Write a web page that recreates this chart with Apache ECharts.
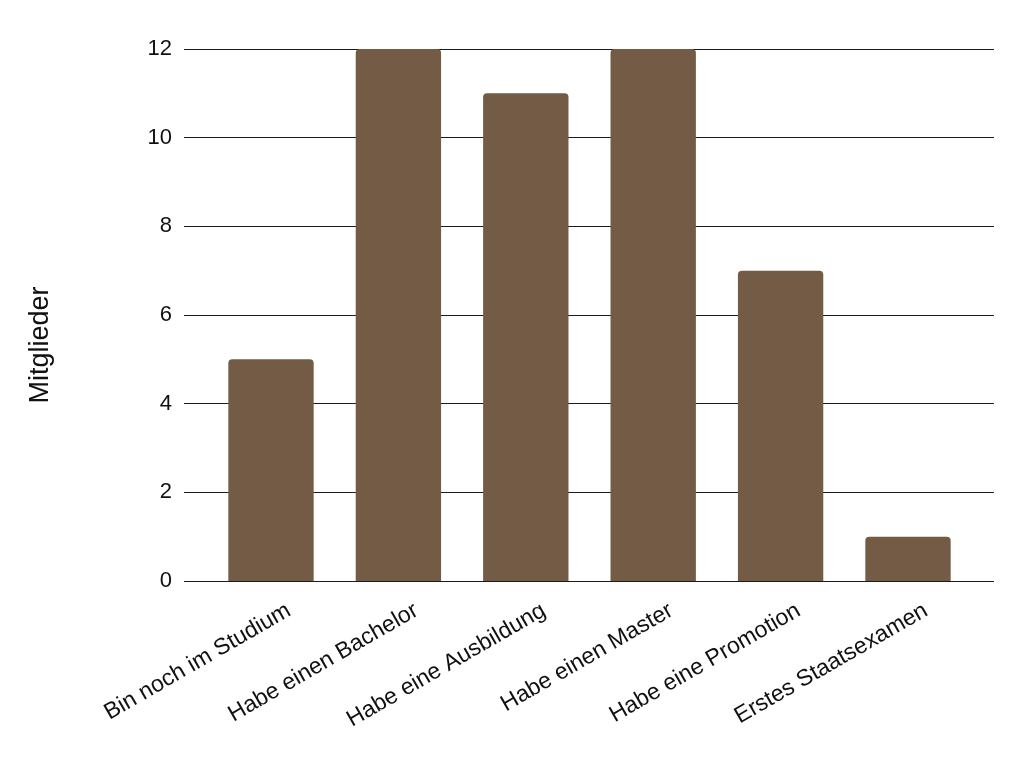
<!DOCTYPE html>
<html>
<head>
<meta charset="utf-8">
<script src="https://cdn.jsdelivr.net/npm/echarts@6/dist/echarts.min.js"></script>
<style>
html,body{margin:0;padding:0;background:#fff;}
#chart{width:1025px;height:760px;}
</style>
</head>
<body>
<div id="chart"></div>
<script>
var categories = ["Bin noch im Studium", "Habe einen Bachelor", "Habe eine Ausbildung", "Habe einen Master", "Habe eine Promotion", "Erstes Staatsexamen"];
var members = [5, 12, 11, 12, 7, 1];
var yTitle = "Mitglieder";

(function () {
var chart = echarts.init(document.getElementById('chart'));
var font = '"Liberation Sans", Arial, sans-serif';
var gTop = 49, gBottom = 179;
var shift = 18;
chart.setOption({
  animation: false,
  backgroundColor: '#ffffff',
  grid: [
    {left: 184, right: 31, top: gTop, bottom: gBottom},
    {left: 207.3, right: 53.3, top: gTop, bottom: gBottom},
    {left: 207.3 + shift, right: 53.3 - shift, top: gTop, bottom: gBottom}
  ],
  xAxis: [
    {gridIndex: 0, type: 'category', data: categories, show: false},
    {gridIndex: 1, type: 'category', data: categories, show: false},
    {gridIndex: 2, type: 'category', data: categories,
     axisLine: {show: false}, axisTick: {show: false},
     axisLabel: {rotate: 30, interval: 0, margin: 28, color: '#111111', fontSize: 23, fontFamily: font}}
  ],
  yAxis: [
    {gridIndex: 0, type: 'value', min: 0, max: 12, interval: 2,
     name: yTitle, nameLocation: 'middle', nameGap: 130, nameRotate: 90,
     nameTextStyle: {fontSize: 27, color: '#111111', fontFamily: font, padding: [0, 60, 0, 0]},
     axisLine: {show: false}, axisTick: {show: false},
     axisLabel: {margin: 12, fontSize: 22, color: '#111111', fontFamily: font},
     splitLine: {show: true, lineStyle: {color: '#1a1a1a', width: 1}}},
    {gridIndex: 1, type: 'value', min: 0, max: 12, interval: 2, show: false, splitLine: {show: false}},
    {gridIndex: 2, type: 'value', min: 0, max: 12, interval: 2, show: false, splitLine: {show: false}}
  ],
  series: [{
    type: 'bar', xAxisIndex: 1, yAxisIndex: 1, data: members,
    barWidth: '67%',
    itemStyle: {color: '#745b45', borderRadius: [4, 4, 0, 0]}
  }]
});
})();
</script>
</body>
</html>
